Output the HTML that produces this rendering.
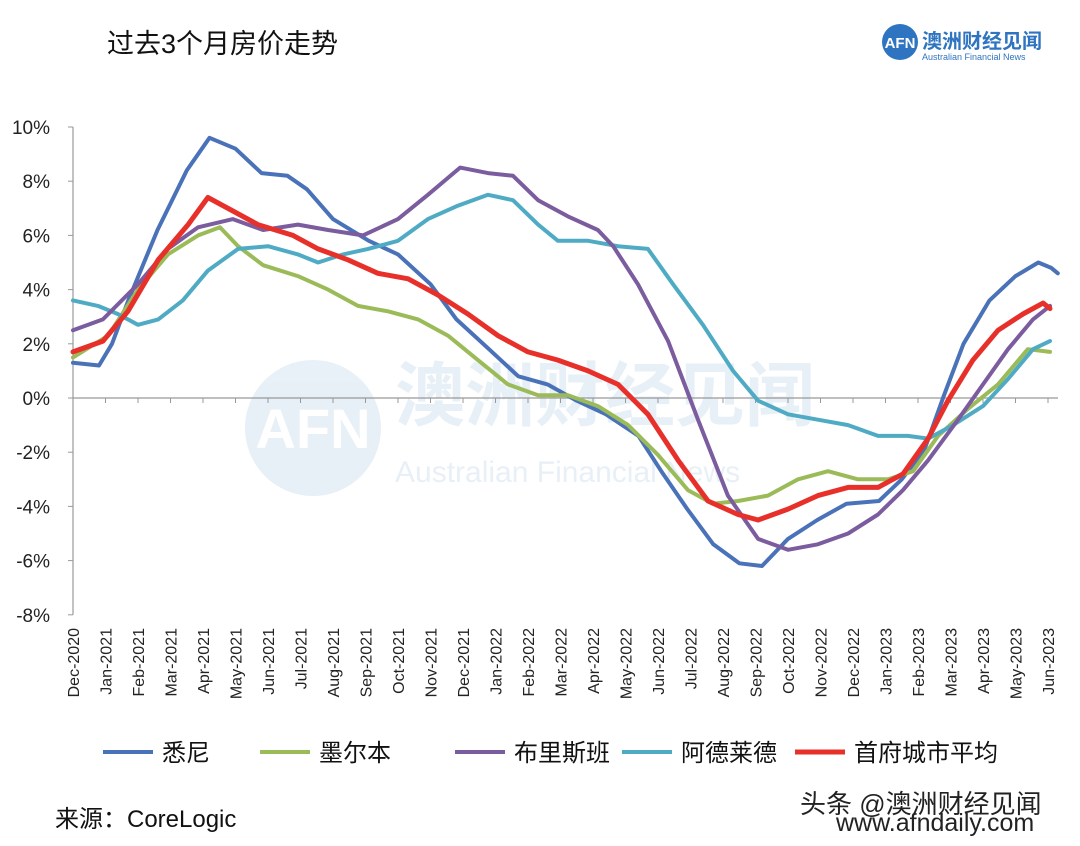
<!DOCTYPE html>
<html><head><meta charset="utf-8">
<style>
body{margin:0;background:#fff;}
svg{display:block;font-family:"Liberation Sans","Noto Sans CJK SC",sans-serif;}
</style></head>
<body>
<svg id="chart" width="1080" height="846" viewBox="0 0 1080 846">
  <text x="107" y="53" font-size="27" fill="#111">过去3个月房价走势</text>
  <g>
    <circle cx="900" cy="42" r="18" fill="#2f74c0"/>
    <text x="900" y="48" font-size="15" fill="#fff" text-anchor="middle" font-weight="bold">AFN</text>
    <text x="922" y="48" font-size="20" fill="#2f74c0" font-weight="bold">澳洲财经见闻</text>
    <text x="922" y="60" font-size="9" fill="#2f74c0">Australian Financial News</text>
  </g>
  <g opacity="0.11">
    <circle cx="313" cy="428" r="68" fill="#2f74c0"/>
    <text x="313" y="448" font-size="56" fill="#fff" text-anchor="middle" font-weight="bold">AFN</text>
    <text x="395" y="420" font-size="70" fill="#2f74c0" font-weight="bold">澳洲财经见闻</text>
    <text x="395" y="482" font-size="30" fill="#2f74c0">Australian Financial News</text>
  </g>
  <g id="axes"></g>
  <g id="series"></g>
  <g id="legend"></g>
  <text x="55" y="827" font-size="24" fill="#111">来源：CoreLogic</text>
  <text x="800" y="813" font-size="26" fill="#222">头条 @澳洲财经见闻</text>
  <text x="836" y="831" font-size="25" fill="#222">www.afndaily.com</text>
</svg>
<script>
const monthLabels=["Dec-2020","Jan-2021","Feb-2021","Mar-2021","Apr-2021","May-2021","Jun-2021","Jul-2021","Aug-2021","Sep-2021","Oct-2021","Nov-2021","Dec-2021","Jan-2022","Feb-2022","Mar-2022","Apr-2022","May-2022","Jun-2022","Jul-2022","Aug-2022","Sep-2022","Oct-2022","Nov-2022","Dec-2022","Jan-2023","Feb-2023","Mar-2023","Apr-2023","May-2023","Jun-2023"];
const yTicks=[10,8,6,4,2,0,-2,-4,-6,-8];
const seriesNames=["悉尼","墨尔本","布里斯班","阿德莱德","首府城市平均"];
const seriesColors=["#4a72b8","#9bbb59","#7b5c9e","#4fabc4","#e8302a"];
const sydT=[0,0.8,1.2,1.7,2.6,3.5,4.2,5.0,5.8,6.6,7.2,8.0,9.1,10.0,11.0,11.8,12.8,13.7,14.6,15.5,16.4,17.4,18.1,18.9,19.7,20.5,21.2,22.0,22.9,23.8,24.8,25.5,26.2,26.8,27.4,28.2,29.0,29.7,30.1,30.3];
const sydV=[1.3,1.2,2.0,3.6,6.2,8.4,9.6,9.2,8.3,8.2,7.7,6.6,5.8,5.3,4.2,2.9,1.8,0.8,0.5,-0.1,-0.6,-1.4,-2.7,-4.1,-5.4,-6.1,-6.2,-5.2,-4.5,-3.9,-3.8,-3.0,-1.9,0.1,2.0,3.6,4.5,5.0,4.8,4.6];
const melT=[0,1.08,2.0,2.92,3.85,4.52,5.08,5.85,6.92,7.85,8.77,9.69,10.62,11.54,12.46,13.38,14.31,15.23,16.15,17.08,18.0,18.92,19.69,20.46,21.38,22.31,23.23,24.15,25.08,25.85,26.62,27.54,28.46,29.38,30.06];
const melV=[1.5,2.3,4.0,5.3,6.0,6.3,5.6,4.9,4.5,4.0,3.4,3.2,2.9,2.3,1.4,0.5,0.1,0.1,-0.3,-1.0,-2.1,-3.4,-3.9,-3.8,-3.6,-3.0,-2.7,-3.0,-3.0,-2.7,-1.4,-0.4,0.5,1.8,1.7];
const briT=[0,0.92,2.0,2.92,3.85,4.92,5.85,6.92,7.85,8.92,10.0,10.92,11.91,12.77,13.54,14.31,15.23,16.15,16.62,17.38,18.31,19.23,20.15,21.08,22.0,22.92,23.85,24.77,25.54,26.31,27.23,28.0,28.77,29.54,30.06];
const briV=[2.5,2.9,4.2,5.5,6.3,6.6,6.2,6.4,6.2,6.0,6.6,7.5,8.5,8.3,8.2,7.3,6.7,6.2,5.6,4.2,2.1,-0.8,-3.6,-5.2,-5.6,-5.4,-5.0,-4.3,-3.4,-2.3,-0.8,0.5,1.8,2.9,3.4];
const adeT=[0,0.77,1.38,2.0,2.62,3.38,4.15,5.08,6.0,6.92,7.54,8.31,9.08,10.0,10.92,11.85,12.77,13.54,14.31,14.92,15.85,16.77,17.69,18.46,19.38,20.31,21.08,22.0,22.92,23.85,24.77,25.69,26.31,27.08,28.0,28.77,29.54,30.06];
const adeV=[3.6,3.4,3.1,2.7,2.9,3.6,4.7,5.5,5.6,5.3,5.0,5.3,5.5,5.8,6.6,7.1,7.5,7.3,6.4,5.8,5.8,5.6,5.5,4.2,2.7,1.0,-0.1,-0.6,-0.8,-1.0,-1.4,-1.4,-1.5,-1.0,-0.3,0.7,1.8,2.1];
const capT=[0,0.92,1.69,2.62,3.54,4.15,4.92,5.69,6.77,7.54,8.46,9.38,10.31,11.23,12.15,13.08,14.0,14.92,15.85,16.77,17.69,18.62,19.54,20.46,21.08,22.0,22.92,23.85,24.77,25.54,26.31,26.92,27.69,28.46,29.23,29.85,30.06];
const capV=[1.7,2.1,3.2,5.1,6.4,7.4,6.9,6.4,6.0,5.5,5.1,4.6,4.4,3.8,3.1,2.3,1.7,1.4,1.0,0.5,-0.6,-2.3,-3.8,-4.3,-4.5,-4.1,-3.6,-3.3,-3.3,-2.8,-1.5,-0.1,1.4,2.5,3.1,3.5,3.3];

const NS="http://www.w3.org/2000/svg";
const X0=73,X1=1048,Y0=398,PER2=27.1;
const xs=m=>X0+m*(X1-X0)/30;
const ys=v=>Y0-v*PER2;
function mk(tag,attrs,parent){const e=document.createElementNS(NS,tag);for(const k in attrs)e.setAttribute(k,attrs[k]);parent.appendChild(e);return e;}
const axes=document.getElementById('axes');
const yAxis=mk('line',{x1:X0,x2:X0,y1:ys(10),y2:ys(-8),stroke:'#999','stroke-width':1.2},axes);


const zero=mk('line',{x1:X0,x2:1058,y1:Y0,y2:Y0,stroke:'#999','stroke-width':1.2},axes);


yTicks.forEach(v=>{
  mk('line',{x1:X0-5,x2:X0,y1:ys(v),y2:ys(v),stroke:'#999'},axes);
  const t=mk('text',{x:50,y:ys(v)+7,'font-size':19,'text-anchor':'end',fill:'#222'},axes);
  t.textContent=v+'%';
  
  
});
monthLabels.forEach((l,i)=>{
  const x=xs(i);
  mk('line',{x1:x,x2:x,y1:Y0,y2:Y0+5,stroke:'#999'},axes);
  const t=mk('text',{x:0,y:0,'font-size':16,'text-anchor':'end',fill:'#222',transform:`translate(${x+6},628) rotate(-90)`},axes);
  t.textContent=l;
  
  
});
const seriesT=[sydT,melT,briT,adeT,capT];
const seriesV=[sydV,melV,briV,adeV,capV];
const sg=document.getElementById('series');
[0,1,3,2,4].forEach(i=>{
  const d=seriesT[i].map((m,j)=>(j?'L':'M')+xs(m).toFixed(1)+','+ys(seriesV[i][j]).toFixed(1)).join('');
  const p=mk('path',{d:d,fill:'none',stroke:seriesColors[i],'stroke-width':i==4?5:4,'stroke-linejoin':'round','stroke-linecap':'round'},sg);
  
  
});
const lg=document.getElementById('legend');
const lx=[103,260,455,622,795];
seriesNames.forEach((n,i)=>{
  const g=mk('g',{},lg);
  
  
  mk('line',{x1:lx[i],x2:lx[i]+50,y1:752,y2:752,stroke:seriesColors[i],'stroke-width':i==4?5:4},g);
  const t=mk('text',{x:lx[i]+59,y:761,'font-size':24,fill:'#111'},g);
  t.textContent=n;
});
</script>
</body></html>
